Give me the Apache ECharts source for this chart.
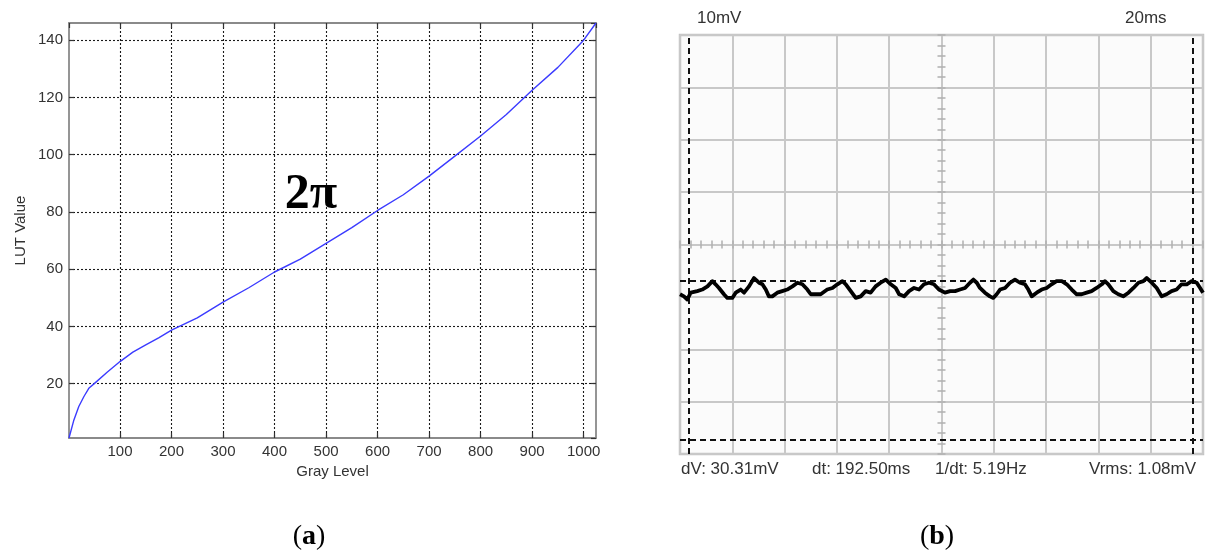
<!DOCTYPE html>
<html>
<head>
<meta charset="utf-8">
<script src="https://cdn.jsdelivr.net/npm/echarts@6/dist/echarts.min.js"></script>
<style>
  html, body { margin: 0; padding: 0; background: #ffffff; }
  #chart { width: 1208px; height: 551px; }
</style>
</head>
<body>
<div id="chart"></div>
<script>
// (a) LUT curve: gray level -> LUT value
const grayLevel = [1, 10, 20, 30, 40, 50, 75, 100, 125, 150, 175, 200, 250, 300, 350, 400,
                   450, 500, 550, 600, 650, 700, 750, 800, 850, 900, 950, 1000, 1024];
const lutValue  = [1, 7, 12, 15.5, 18.5, 20, 24, 27.7, 31, 33.5, 36, 38.7, 43, 48.5, 53.5, 59,
                   63.5, 69, 74.5, 80.5, 86, 92.5, 99.5, 106.5, 114, 122.5, 130.5, 140, 146];
const phaseLabel = '2\u03c0';

// (b) oscilloscope trace: time (ms) and voltage (mV), 20 ms/div, 10 mV/div
const scopeTime = [0, 1.5, 2.8, 4.1, 6.6, 8.5, 10.5, 12.4, 13.6, 14.9, 16.8, 18.1, 20.0, 21.3, 23.2, 24.5,
  26.4, 28.3, 30.2, 31.5, 32.8, 34.0, 35.3, 37.2, 39.1, 41.0, 43.0, 44.9, 46.8, 48.7, 50.0, 51.9, 53.8,
  56.3, 58.3, 60.2, 62.1, 63.4, 65.3, 67.2, 69.1, 71.0, 72.9, 74.8, 76.7, 78.7, 80.6, 82.5, 83.8, 85.7,
  87.6, 89.5, 91.4, 93.3, 95.2, 97.1, 99.0, 101.3, 103.3, 105.2, 107.1, 109.0, 110.9, 112.2, 113.5,
  114.7, 116.6, 118.5, 119.8, 121.1, 122.4, 124.3, 126.2, 128.1, 130.0, 131.9, 133.2, 134.5, 136.4,
  138.3, 140.2, 142.1, 144.0, 146.0, 147.9, 149.8, 151.7, 153.6, 155.5, 157.4, 159.3, 161.3, 162.5,
  163.8, 165.7, 167.6, 169.5, 171.5, 173.4, 175.3, 177.2, 178.5, 180.4, 182.3, 184.2, 186.1, 188.0,
  189.9, 191.8, 193.8, 195.7, 197.6, 198.9, 200.0];
const scopeMv = [-9.5, -9.9, -10.5, -9.2, -8.9, -8.6, -8.0, -7.0, -7.6, -8.3, -9.5, -10.2, -10.2, -9.2,
  -8.6, -9.2, -8.0, -6.4, -7.3, -7.6, -8.6, -9.9, -9.9, -9.2, -8.9, -8.6, -8.0, -7.3, -7.6, -8.6, -9.5,
  -9.5, -9.5, -8.6, -8.3, -7.6, -7.0, -7.6, -8.9, -10.2, -9.9, -8.9, -9.2, -8.0, -7.3, -6.7, -7.6, -8.3,
  -9.5, -9.9, -8.9, -8.3, -8.6, -7.6, -7.3, -7.6, -8.6, -9.2, -8.9, -8.9, -8.6, -8.3, -7.3, -6.7, -7.3,
  -8.3, -9.2, -9.9, -10.2, -9.5, -8.6, -8.3, -7.3, -6.7, -7.3, -7.6, -8.6, -9.9, -9.2, -8.6, -8.3, -7.6,
  -7.0, -7.0, -7.6, -8.6, -9.5, -9.5, -9.2, -8.9, -8.3, -7.6, -7.0, -7.6, -8.9, -9.5, -9.9, -9.2, -8.3,
  -7.3, -7.0, -6.4, -7.3, -8.3, -9.9, -9.5, -8.9, -8.6, -7.6, -7.6, -7.0, -7.3, -8.3, -9.2];

// cursor readouts shown under the screen
const cursorT1 = 3.4;      // ms, first time cursor
const cursorV1 = -6.9;     // mV, first voltage cursor
const readDV = 30.31;      // mV
const readDT = 192.50;     // ms
const readInvDT = 5.19;    // Hz
const readVrms = 1.08;     // mV
const scopeScaleV = '10mV';
const scopeScaleT = '20ms';
const panelTags = ['a', 'b'];

const sans = 'Liberation Sans, Arial, sans-serif';
const serif = 'Liberation Serif, Times New Roman, serif';

const chart = echarts.init(document.getElementById('chart'), null, { renderer: 'canvas' });

const lutFrame = { show: true, lineStyle: { color: '#8a8a8a', width: 1.8 } };
const lutTick = { show: true, inside: true, length: 5, lineStyle: { color: '#333', width: 1.2 } };
const lutGrid = { show: true, showMinLine: false, showMaxLine: false,
                  lineStyle: { color: '#1a1a1a', type: [2, 2], width: 1.1 } };
const lutLabel = { show: true, color: '#333', fontFamily: sans, fontSize: 15,
                   showMinLabel: false, showMaxLabel: false, formatter: v => String(v) };

const scopeRect = { left: 680, top: 35, width: 523, height: 419 };
const scopeGridLine = { show: true, lineStyle: { color: '#c8c8c8', width: 2 } };

// center cross of the scope screen with small division marks
function centerAxis(dim, pos, inside) {
  return {
    gridIndex: 2, type: 'value', position: pos,
    min: dim === 'x' ? -100 : -40, max: dim === 'x' ? 100 : 40, interval: dim === 'x' ? 20 : 10,
    axisLine: { show: true, onZero: true, lineStyle: { color: '#c8c8c8', width: 2 } },
    axisTick: { show: true, inside: inside, length: 4, lineStyle: { color: '#b0b0b0', width: 1.5 } },
    minorTick: { show: true, splitNumber: 5, length: 4, lineStyle: { color: '#b0b0b0', width: 1.5 } },
    axisLabel: { show: false }, splitLine: { show: false }
  };
}

function panelTag(tag, x) {
  return {
    type: 'text', x: x, y: 537, z: 10,
    style: {
      text: '{p|(}{b|' + tag + '}{p|)}', align: 'center', verticalAlign: 'middle',
      rich: {
        p: { fontFamily: serif, fontSize: 28, fill: '#000' },
        b: { fontFamily: serif, fontSize: 28, fontWeight: 'bold', fill: '#000' }
      }
    }
  };
}

function scopeText(text, x, y) {
  return { type: 'text', x: x, y: y, style: { text: text, font: '17px ' + sans, fill: '#333', verticalAlign: 'middle' } };
}

const option = {
  backgroundColor: '#ffffff',
  animation: false,
  grid: [
    { left: 69, top: 23, width: 527, height: 415, show: false },
    Object.assign({ show: true, backgroundColor: '#fbfbfb', borderColor: '#c4c4c4', borderWidth: 2.5 }, scopeRect),
    Object.assign({ show: false }, scopeRect)
  ],
  xAxis: [
    { gridIndex: 0, type: 'value', position: 'bottom', min: 1, max: 1024, splitNumber: 10,
      name: 'Gray Level', nameLocation: 'middle', nameGap: 26,
      nameTextStyle: { color: '#333', fontFamily: sans, fontSize: 15 },
      axisLine: lutFrame, axisTick: lutTick, axisLabel: Object.assign({ margin: 6 }, lutLabel), splitLine: lutGrid },
    { gridIndex: 0, type: 'value', position: 'top', min: 1, max: 1024, splitNumber: 10,
      axisLine: lutFrame, axisTick: lutTick, axisLabel: { show: false }, splitLine: { show: false } },
    { gridIndex: 1, type: 'value', min: 0, max: 200, interval: 20,
      axisLine: { show: false }, axisTick: { show: false }, axisLabel: { show: false }, splitLine: scopeGridLine },
    centerAxis('x', 'bottom', true),
    centerAxis('x', 'bottom', false)
  ],
  yAxis: [
    { gridIndex: 0, type: 'value', position: 'left', min: 1, max: 146, splitNumber: 7,
      name: 'LUT Value', nameLocation: 'middle', nameGap: 41, nameRotate: 90,
      nameTextStyle: { color: '#333', fontFamily: sans, fontSize: 15 },
      axisLine: lutFrame, axisTick: lutTick, axisLabel: Object.assign({ margin: 6 }, lutLabel), splitLine: lutGrid },
    { gridIndex: 0, type: 'value', position: 'right', min: 1, max: 146, splitNumber: 7,
      axisLine: lutFrame, axisTick: lutTick, axisLabel: { show: false }, splitLine: { show: false } },
    { gridIndex: 1, type: 'value', min: -40, max: 40, interval: 10,
      axisLine: { show: false }, axisTick: { show: false }, axisLabel: { show: false }, splitLine: scopeGridLine },
    centerAxis('y', 'left', true),
    centerAxis('y', 'left', false)
  ],
  series: [
    {
      type: 'line', xAxisIndex: 0, yAxisIndex: 0,
      data: grayLevel.map((g, i) => [g, lutValue[i]]),
      showSymbol: false, symbol: 'none',
      lineStyle: { color: '#3b3bff', width: 1.4 },
      silent: true, z: 5
    },
    {
      type: 'line', xAxisIndex: 2, yAxisIndex: 2,
      data: scopeTime.map((t, i) => [t, scopeMv[i]]),
      showSymbol: false, symbol: 'none',
      lineStyle: { color: '#000000', width: 3.8, join: 'round' },
      silent: true, z: 5,
      markLine: {
        silent: true, symbol: 'none', label: { show: false },
        lineStyle: { color: '#111', width: 2, type: [6, 4] },
        data: [
          { xAxis: cursorT1 }, { xAxis: cursorT1 + readDT },
          { yAxis: cursorV1 }, { yAxis: cursorV1 - readDV }
        ]
      }
    }
  ],
  graphic: [
    { type: 'text', x: 311, y: 195, z: 10,
      style: { text: phaseLabel, font: 'bold 50px ' + serif, fill: '#000', align: 'center', verticalAlign: 'middle' } },
    scopeText(scopeScaleV, 697, 18),
    scopeText(scopeScaleT, 1125, 18),
    scopeText('dV: ' + readDV.toFixed(2) + 'mV', 681, 469),
    scopeText('dt: ' + readDT.toFixed(2) + 'ms', 812, 469),
    scopeText('1/dt: ' + readInvDT.toFixed(2) + 'Hz', 935, 469),
    scopeText('Vrms: ' + readVrms.toFixed(2) + 'mV', 1089, 469),
    panelTag(panelTags[0], 309),
    panelTag(panelTags[1], 937)
  ]
};

chart.setOption(option);
</script>
</body>
</html>
